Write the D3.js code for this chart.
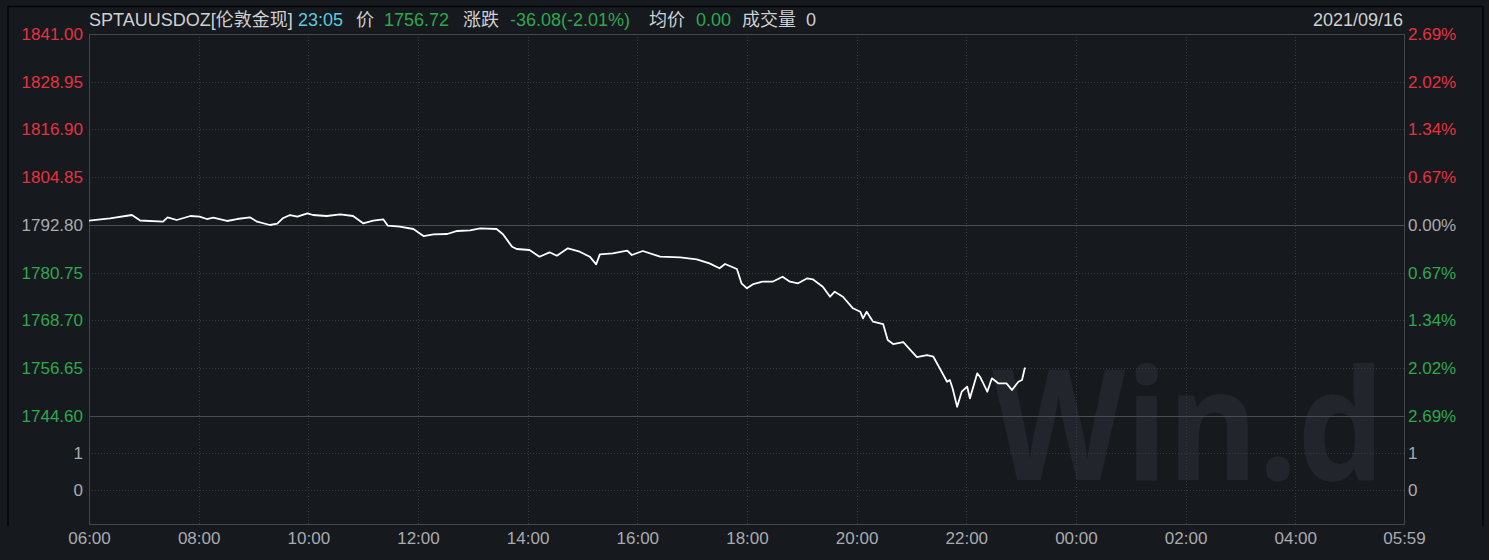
<!DOCTYPE html>
<html><head><meta charset="utf-8">
<script src="https://cdn.jsdelivr.net/npm/d3@7"></script>
<style>
html,body{margin:0;padding:0;background:#16191e;}
svg{display:block;}
text{font-family:"Liberation Sans","Noto Sans CJK SC",sans-serif;}
</style></head>
<body><svg id="c" width="1489" height="560"></svg>
<script>
// ---- data ----
const times = ["06:00","06:23","06:47","06:56","07:21","07:26","07:36","07:51","08:01","08:09","08:16","08:31","08:42","08:56","09:04","09:18","09:26","09:32","09:40","09:48","09:59","10:05","10:20","10:35","10:49","11:00","11:11","11:22","11:27","11:40","11:55","12:06","12:17","12:32","12:43","12:57","13:08","13:26","13:33","13:43","13:48","14:02","14:13","14:24","14:32","14:44","14:57","15:08","15:15","15:19","15:33","15:49","15:54","16:06","16:25","16:47","17:05","17:19","17:30","17:36","17:49","17:54","18:00","18:07","18:17","18:28","18:39","18:47","18:56","19:06","19:12","19:23","19:31","19:36","19:45","19:56","20:04","20:07","20:11","20:18","20:29","20:34","20:40","20:51","20:58","21:06","21:17","21:24","21:31","21:39","21:42","21:45","21:50","21:55","22:01","22:04","22:12","22:15","22:23","22:28","22:35","22:44","22:50","22:57","23:01","23:04","23:05"];
const prices = [1793.89,1794.49,1795.32,1793.94,1793.63,1794.74,1794.06,1795.07,1794.89,1794.31,1794.64,1793.81,1794.31,1794.74,1793.63,1792.80,1793.13,1794.49,1795.32,1794.89,1795.75,1795.32,1795.07,1795.50,1795.07,1793.23,1793.89,1794.24,1792.62,1792.37,1791.79,1790.02,1790.45,1790.53,1791.29,1791.46,1791.97,1791.79,1790.45,1787.32,1786.74,1786.49,1784.80,1785.91,1785.05,1786.92,1786.06,1784.80,1782.88,1785.40,1785.66,1786.31,1785.23,1786.24,1784.80,1784.65,1784.14,1783.13,1781.87,1782.96,1781.70,1778.09,1776.82,1777.91,1778.49,1778.49,1779.75,1778.49,1778.09,1779.35,1779.10,1777.23,1774.70,1775.97,1774.70,1771.78,1770.92,1769.25,1770.92,1768.39,1767.81,1763.77,1762.76,1763.27,1761.50,1759.48,1759.99,1759.56,1756.63,1753.25,1753.68,1751.58,1746.94,1750.73,1752.00,1749.06,1755.37,1754.51,1750.73,1754.11,1752.85,1752.85,1751.15,1753.25,1753.68,1756.63,1756.72];
const prevClose = 1792.80;
const priceTicks = [1841.00,1828.95,1816.90,1804.85,1792.80,1780.75,1768.70,1756.65,1744.60];
const pctLabels = ["2.69%","2.02%","1.34%","0.67%","0.00%","0.67%","1.34%","2.02%","2.69%"];
const volTicks = [1,0];
const xTickLabels = ["06:00","08:00","10:00","12:00","14:00","16:00","18:00","20:00","22:00","00:00","02:00","04:00","05:59"];
const headerTexts = ["SPTAUUSDOZ[伦敦金现]","23:05","价","1756.72","涨跌","-36.08(-2.01%)","均价","0.00","成交量","0"];
const dateLabel = "2021/09/16";
const watermark = "Win.d";

// ---- setup ----
const RED="#e5323e", GREEN="#2ea74e", GRAY="#a9abae", LIGHT="#cfd0d2", CYAN="#5cc9dc";
const svg = d3.select("#c");
const L=89, R=1404, T=34, PB=416, B=524;
const day0 = new Date(2021,8,16,6,0);
const toDate = s => { const [h,m]=s.split(":").map(Number); const d=new Date(2021,8,16,h,m); if(d<day0) d.setDate(17); return d; };
const x = d3.scaleTime().domain([day0,new Date(2021,8,17,5,59)]).range([L,R]);
const y = d3.scaleLinear().domain([1744.60,1841.00]).range([PB,T]);
const yv = d3.scaleLinear().domain([0,1]).range([490,453]);

// outer frame
svg.append("line").attr("x1",8).attr("x2",1483).attr("y1",6.5).attr("y2",6.5).attr("stroke","#050607").attr("stroke-width",1.5);
svg.append("line").attr("x1",8).attr("x2",8).attr("y1",6).attr("y2",526).attr("stroke","#050607").attr("stroke-width",1.5);
svg.append("line").attr("x1",1483).attr("x2",1483).attr("y1",6).attr("y2",526).attr("stroke","#050607").attr("stroke-width",1.5);

// watermark
svg.append("text").attr("transform","translate(992,480) scale(1,1.12)").text(watermark)
  .attr("font-size",138).attr("font-weight","bold").attr("fill","#22262c")
  .style("font-family","'Open Sans','Liberation Sans',sans-serif");

// grid
const g = svg.append("g");
priceTicks.forEach(p=>{
  const solid = (p===prevClose || p===1744.60);
  g.append("line").attr("x1",L).attr("x2",R).attr("y1",Math.round(y(p))+0.5).attr("y2",Math.round(y(p))+0.5)
   .attr("stroke", solid?"#4a4e54":"#363a40").attr("stroke-dasharray", solid?null:"1,2").attr("stroke-width",1);
});
volTicks.forEach(v=>{
  g.append("line").attr("x1",L).attr("x2",R).attr("y1",Math.round(yv(v))+0.5).attr("y2",Math.round(yv(v))+0.5)
   .attr("stroke","#363a40").attr("stroke-dasharray","1,2");
});
const xTickDates = xTickLabels.map(toDate);
xTickDates.slice(1,-1).forEach(d=>{
  g.append("line").attr("x1",Math.round(x(d))+0.5).attr("x2",Math.round(x(d))+0.5).attr("y1",T).attr("y2",B)
   .attr("stroke","#363a40").attr("stroke-dasharray","1,2");
});
// plot frame
svg.append("rect").attr("x",L+0.5).attr("y",T+0.5).attr("width",R-L).attr("height",B-T)
  .attr("fill","none").attr("stroke","#44484e");

// axes
const colorFor = p => p>prevClose?RED:(p<prevClose?GREEN:GRAY);
const yAxisL = d3.axisLeft(y).tickValues(priceTicks).tickSize(0).tickPadding(6).tickFormat(d3.format(".2f"));
const gl = svg.append("g").attr("transform",`translate(${L},0)`).call(yAxisL);
gl.select(".domain").remove();
gl.selectAll("text").attr("fill",d=>colorFor(d)).attr("font-size",17).attr("x",-6);
const yAxisR = d3.axisRight(y).tickValues(priceTicks).tickSize(0).tickPadding(4).tickFormat((d,i)=>pctLabels[i]);
const gr = svg.append("g").attr("transform",`translate(${R},0)`).call(yAxisR);
gr.select(".domain").remove();
gr.selectAll("text").attr("fill",d=>colorFor(d)).attr("font-size",17);
const vL = svg.append("g").attr("transform",`translate(${L},0)`).call(d3.axisLeft(yv).tickValues(volTicks).tickSize(0).tickPadding(6).tickFormat(d3.format("d")));
vL.select(".domain").remove(); vL.selectAll("text").attr("fill",GRAY).attr("font-size",17);
const vR = svg.append("g").attr("transform",`translate(${R},0)`).call(d3.axisRight(yv).tickValues(volTicks).tickSize(0).tickPadding(4).tickFormat(d3.format("d")));
vR.select(".domain").remove(); vR.selectAll("text").attr("fill",GRAY).attr("font-size",17);
const xa = svg.append("g").attr("transform",`translate(0,${B})`).call(d3.axisBottom(x).tickValues(xTickDates).tickSize(0).tickPadding(8).tickFormat((d,i)=>xTickLabels[i]));
xa.select(".domain").remove(); xa.selectAll("text").attr("fill",GRAY).attr("font-size",17);

// line
const data = times.map((t,i)=>({t:toDate(t),p:prices[i]}));
svg.append("path").datum(data).attr("fill","none").attr("stroke","#ffffff").attr("stroke-width",1.8)
  .attr("stroke-linejoin","round")
  .attr("d",d3.line().x(d=>x(d.t)).y(d=>y(d.p)));

// header
const hx = [89,298,356,384,463,510,649,696,742,806];
const hc = [LIGHT,CYAN,LIGHT,GREEN,LIGHT,GREEN,LIGHT,GREEN,LIGHT,LIGHT];
headerTexts.forEach((s,i)=>{
  svg.append("text").attr("x",hx[i]).attr("y",26).text(s).attr("fill",hc[i]).attr("font-size",18);
});
svg.append("text").attr("x",1403).attr("y",26).attr("text-anchor","end").text(dateLabel).attr("fill",LIGHT).attr("font-size",18);
</script></body></html>
